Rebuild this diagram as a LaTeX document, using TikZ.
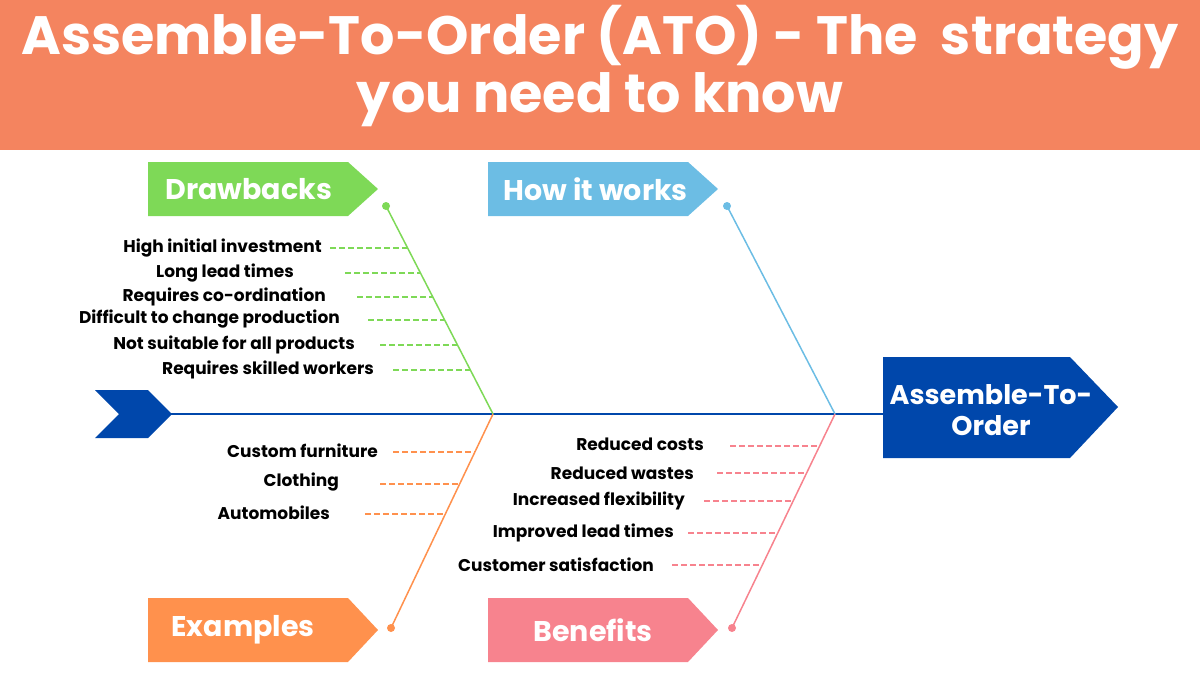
\documentclass[tikz,border=0pt]{standalone}
\usepackage{fontspec}
\setmainfont{Poppins}
\begin{document}
\begin{tikzpicture}[x=1pt,y=-1pt,
 itemtxt/.style={anchor=east,font=\fontsize{17}{20}\selectfont\bfseries,text=black,inner sep=0pt},
 lbl/.style={font=\fontsize{28.5}{33}\selectfont\bfseries,text=white},
 dsh/.style={line width=1.2pt,dash pattern=on 6pt off 3pt},
 rib/.style={line width=1.5pt}]
\definecolor{hdr}{HTML}{F4845F}
\definecolor{gr}{HTML}{7ED957}
\definecolor{bl}{HTML}{6CBDE4}
\definecolor{orn}{HTML}{FF914D}
\definecolor{pk}{HTML}{F7838E}
\definecolor{nv}{HTML}{0047AB}
\useasboundingbox (0,0) rectangle (1200,675);
\fill[hdr] (0,0) rectangle (1200,150);
\node[font=\fontsize{54}{58}\selectfont\bfseries,text=white,align=center] (title) at (600,66) {Assemble-To-Order (ATO) - The\ \ strategy\\you need to know};
% spine
\fill[nv] (95,390) -- (148,390) -- (172,414) -- (148,438) -- (95,438) -- (119,414) -- cycle;
\coordinate (tail) at (170,414);
\coordinate (j1) at (493,414);
\coordinate (j2) at (835,414);
\fill[nv] (883,357) -- (1070,357) -- (1118,407) -- (1070,458) -- (883,458) -- cycle;
\node[font=\fontsize{27}{31}\selectfont\bfseries,text=white,align=center] (head) at (991,410) {Assemble-To-\\Order};
\draw[nv,line width=2pt] (tail) -- (883,414);
% boxes
\fill[gr] (148,162) -- (348,162) -- (378,189) -- (348,216) -- (148,216) -- cycle;
\node[lbl,anchor=west] (dr) at (162,189) {Drawbacks};
\fill[bl] (488,162) -- (688,162) -- (718,189) -- (688,216) -- (488,216) -- cycle;
\node[lbl,anchor=west] (hw) at (500,189) {How it works};
\fill[orn] (148,598) -- (348,598) -- (378,630) -- (348,662) -- (148,662) -- cycle;
\node[lbl,anchor=west] (ex) at (168,630) {Examples};
\fill[pk] (488,598) -- (688,598) -- (718,630) -- (688,662) -- (488,662) -- cycle;
\node[lbl,anchor=west] (be) at (530,630) {Benefits};
% ribs
\coordinate (dg) at (386,206); \coordinate (db) at (727,206);
\coordinate (do) at (391,628); \coordinate (dp) at (732,628);
\draw[gr,rib] (dg) -- (j1); \fill[gr] (dg) circle (4);
\draw[bl,rib] (db) -- (j2); \fill[bl] (db) circle (4);
\draw[orn,rib] (do) -- (j1); \fill[orn] (do) circle (4);
\draw[pk,rib] (dp) -- (j2); \fill[pk] (dp) circle (4);
% green items
\draw[gr,dsh] (330,248) -- (407.6,248);
\draw[gr,dsh] (345,273) -- (420.5,273);
\draw[gr,dsh] (357,297) -- (432.8,297);
\draw[gr,dsh] (368,320) -- (444.6,320);
\draw[gr,dsh] (380,345) -- (457.5,345);
\draw[gr,dsh] (393,370) -- (470.4,370);
\node[itemtxt] (g1) at (322,248) {High initial investment};
\node[itemtxt] (g2) at (294,273) {Long lead times};
\node[itemtxt] (g3) at (326,297) {Requires co-ordination};
\node[itemtxt] (g4) at (340,319) {Difficult to change production};
\node[itemtxt] (g5) at (355,345) {Not suitable for all products};
\node[itemtxt] (g6) at (374,370) {Requires skilled workers};
\draw[orn,dsh] (393,452) -- (474.9,452);
\draw[orn,dsh] (380,484) -- (459.6,484);
\draw[orn,dsh] (365,514) -- (445.3,514);
\node[itemtxt] (o1) at (378,451) {Custom furniture};
\node[itemtxt] (o2) at (339,482) {Clothing};
\node[itemtxt] (o3) at (330,513) {Automobiles};
\draw[pk,dsh] (730,446) -- (819.6,446);
\draw[pk,dsh] (717,473) -- (806.6,473);
\draw[pk,dsh] (704,501) -- (793.1,501);
\draw[pk,dsh] (688,533) -- (777.7,533);
\draw[pk,dsh] (672,565) -- (762.3,565);
\node[itemtxt] (p1) at (704,444) {Reduced costs};
\node[itemtxt] (p2) at (694,473) {Reduced wastes};
\node[itemtxt] (p3) at (685,501) {Increased flexibility};
\node[itemtxt] (p4) at (674,533) {Improved lead times};
\node[itemtxt] (p5) at (654,565) {Customer satisfaction};
\end{tikzpicture}
\end{document}
